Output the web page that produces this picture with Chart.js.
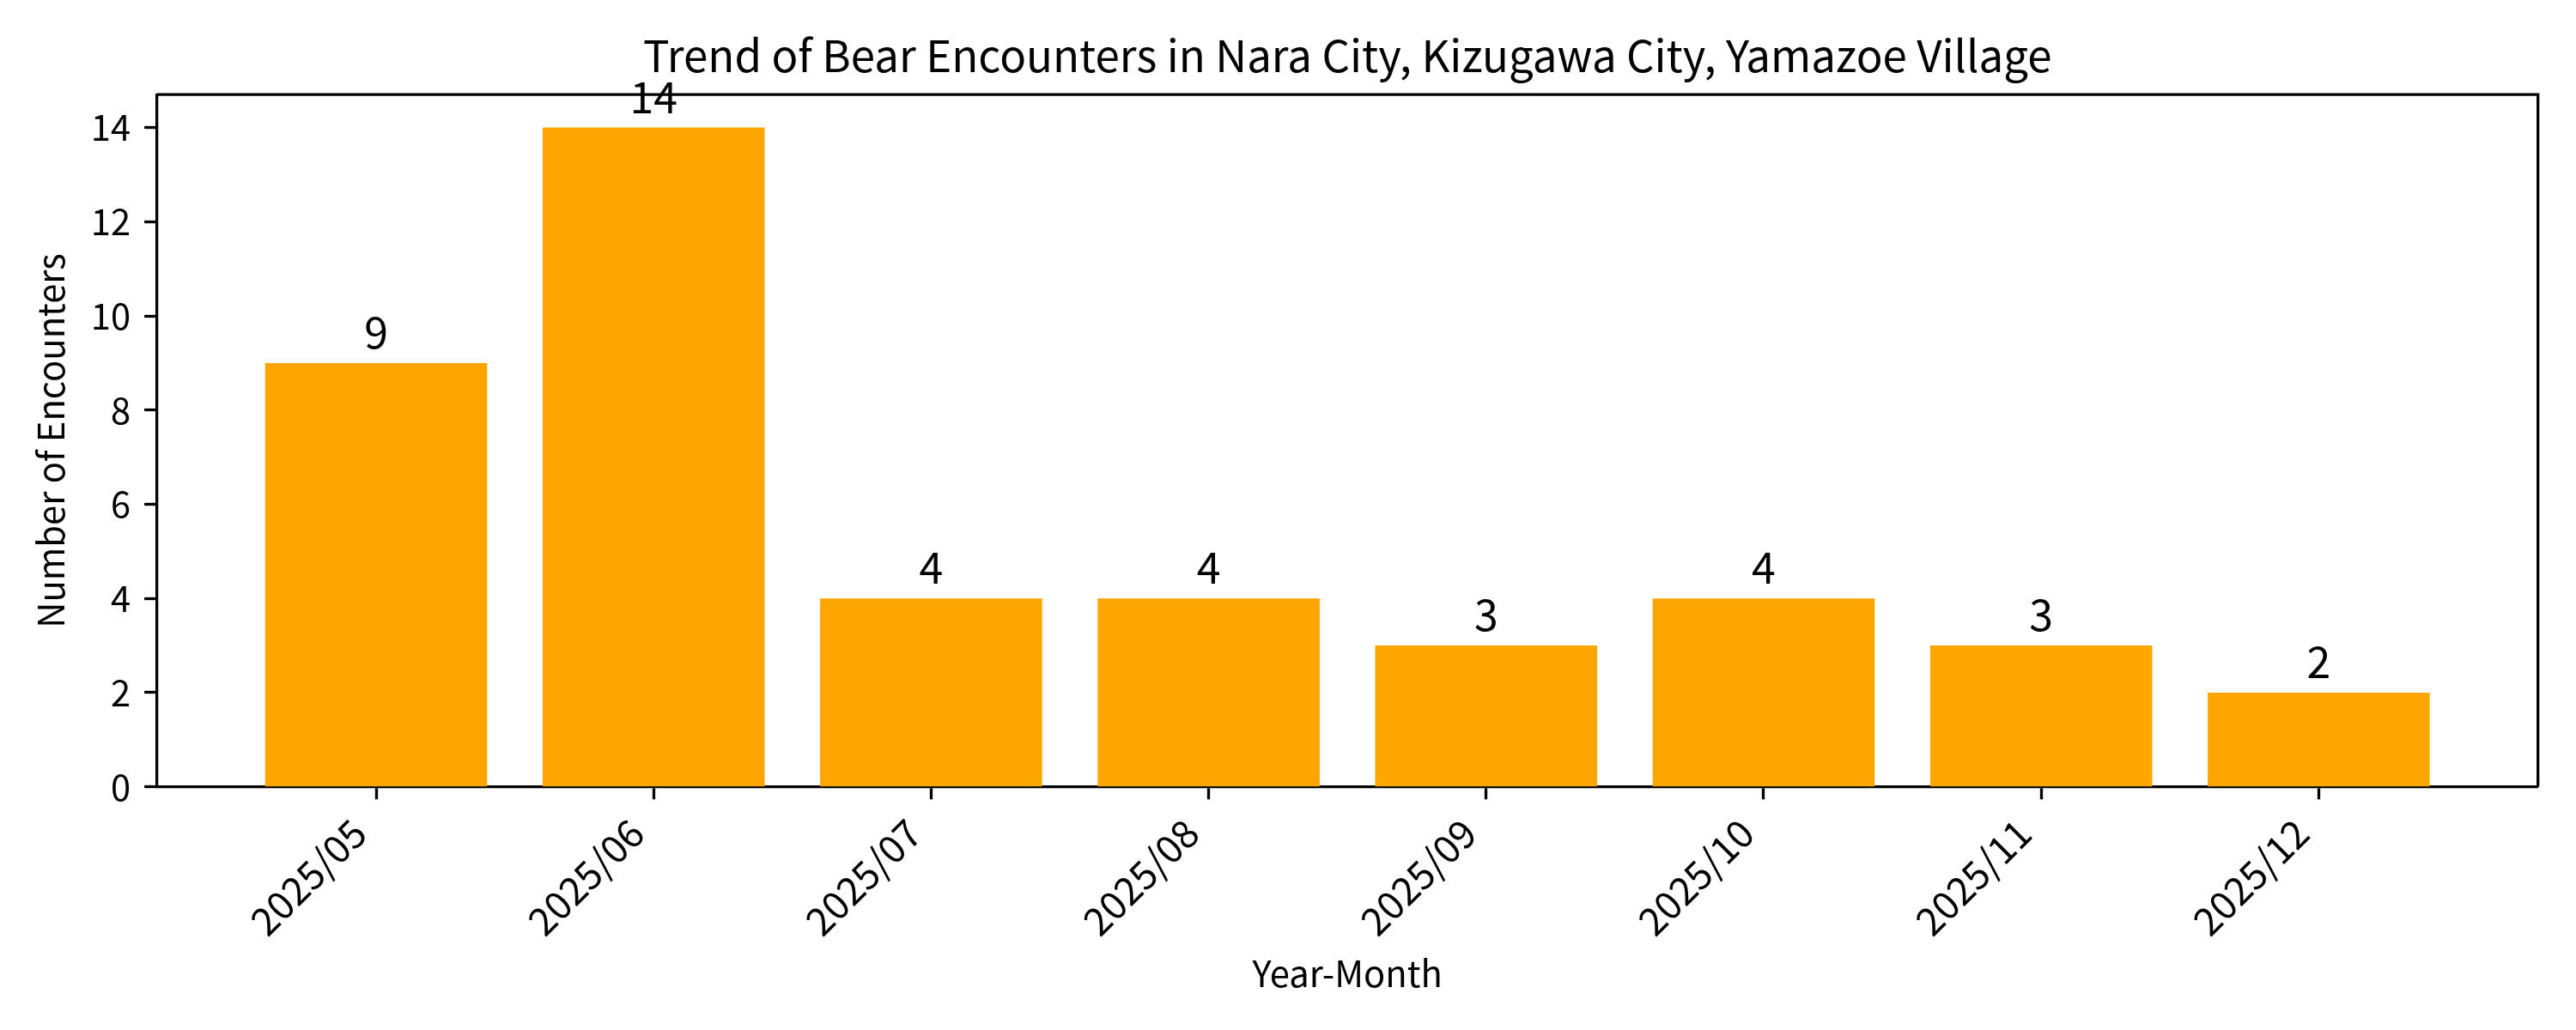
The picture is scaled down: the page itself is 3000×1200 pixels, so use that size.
<!DOCTYPE html>
<html>
<head>
<meta charset="utf-8">
<script src="https://cdn.jsdelivr.net/npm/chart.js@4/dist/chart.umd.min.js"></script>
<style>
  html, body { margin: 0; padding: 0; background: #fff; }
  #wrap { width: 3000px; height: 1200px; }
</style>
</head>
<body>
<div id="wrap"><canvas id="chart" width="3000" height="1200"></canvas></div>
<script>
const months = ["2025/05", "2025/06", "2025/07", "2025/08", "2025/09", "2025/10", "2025/11", "2025/12"];
const encounters = [9, 14, 4, 4, 3, 4, 3, 2];
const yTicks = [0, 2, 4, 6, 8, 10, 12, 14];

const FONT = "'Noto Sans CJK JP', 'Noto Sans', sans-serif";
const LINE = 3.3;

// top/right spines and value labels above bars
const barLabels = {
  id: "barLabels",
  afterDatasetsDraw(chart) {
    const { ctx, chartArea } = chart;
    ctx.save();
    ctx.strokeStyle = "#000";
    ctx.lineWidth = LINE;
    ctx.beginPath();
    ctx.moveTo(chartArea.left, chartArea.top);
    ctx.lineTo(chartArea.right, chartArea.top);
    ctx.lineTo(chartArea.right, chartArea.bottom);
    ctx.stroke();

    ctx.fillStyle = "#000";
    ctx.font = "50px " + FONT;
    ctx.textAlign = "center";
    ctx.textBaseline = "alphabetic";
    chart.getDatasetMeta(0).data.forEach((bar, i) => {
      ctx.fillText(String(encounters[i]), bar.x, bar.y - 17);
    });
    ctx.restore();
  }
};

new Chart(document.getElementById("chart"), {
  type: "bar",
  data: {
    datasets: [{
      data: months.map((m, i) => ({ x: i, y: encounters[i] })),
      backgroundColor: "#FFA500",
      borderWidth: 0,
      barPercentage: 0.8,
      categoryPercentage: 1.0
    }]
  },
  options: {
    responsive: false,
    animation: false,
    devicePixelRatio: 1,
    layout: { padding: { left: 0, right: 44.3, top: 0, bottom: 0 } },
    plugins: {
      legend: { display: false },
      tooltip: { enabled: false },
      title: {
        display: true,
        fullSize: false,
        text: "Trend of Bear Encounters in Nara City, Kizugawa City, Yamazoe Village",
        color: "#000",
        font: { family: FONT, size: 51, weight: "normal" },
        padding: { top: 34, bottom: 15 }
      }
    },
    scales: {
      x: {
        type: "linear",
        min: -0.79,
        max: 7.79,
        offset: false,
        z: 1,
        afterBuildTicks(scale) {
          scale.ticks = months.map((m, i) => ({ value: i }));
        },
        afterFit(scale) { scale.height = 283.3; },
        grid: {
          offset: false,
          drawOnChartArea: false,
          drawTicks: true,
          tickLength: 14.6,
          tickWidth: LINE,
          tickColor: "#000"
        },
        border: { display: true, color: "#000", width: LINE },
        ticks: {
          autoSkip: false,
          minRotation: 45,
          maxRotation: 45,
          padding: 12,
          labelOffset: -20,
          color: "#000",
          font: { family: FONT, size: 45 },
          callback: (v) => months[v]
        },
        title: {
          display: true,
          text: "Year-Month",
          color: "#000",
          font: { family: FONT, size: 41.7 },
          padding: { top: 0, bottom: 41 }
        }
      },
      y: {
        min: 0,
        max: 14.7,
        z: 1,
        afterBuildTicks(scale) {
          scale.ticks = yTicks.map(v => ({ value: v }));
        },
        afterFit(scale) { scale.width = 182.7; },
        grid: {
          drawOnChartArea: false,
          drawTicks: true,
          tickLength: 14.6,
          tickWidth: LINE,
          tickColor: "#000"
        },
        border: { display: true, color: "#000", width: LINE },
        ticks: {
          padding: 16,
          color: "#000",
          font: { family: FONT, size: 41.7 }
        },
        title: {
          display: true,
          text: "Number of Encounters",
          color: "#000",
          font: { family: FONT, size: 41.7 },
          padding: { top: 34, bottom: 0 }
        }
      }
    }
  },
  plugins: [barLabels]
});
</script>
</body>
</html>
